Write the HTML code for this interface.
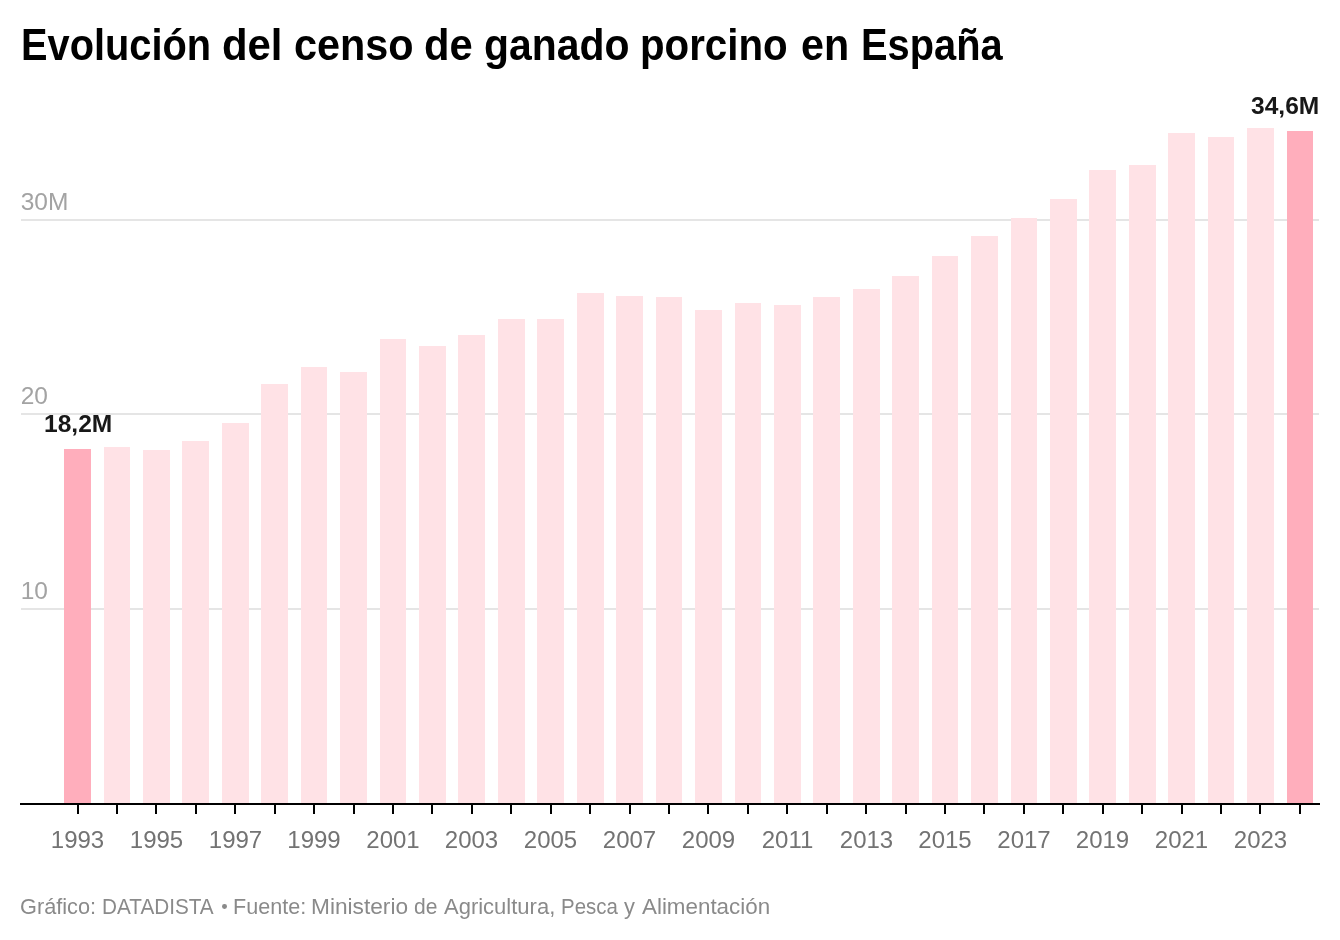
<!DOCTYPE html>
<html lang="es">
<head>
<meta charset="utf-8">
<title>Evolución del censo de ganado porcino en España</title>
<style>
html,body{margin:0;padding:0;background:#fff;}
body{width:1340px;height:940px;position:relative;overflow:hidden;
  font-family:"Liberation Sans",sans-serif;}
.t{position:absolute;white-space:nowrap;line-height:1;transform-origin:0 0;}
.tw{top:23.5px;font-size:43.5px;font-weight:700;color:#000;}
.yl{left:20.7px;font-size:24.5px;color:#a3a3a3;}
.xl{font-size:24px;color:#737373;top:828px;width:80px;text-align:center;}
.vl{font-size:24px;font-weight:700;color:#181818;transform:scaleX(1.023);}
.fw{top:895.8px;font-size:21.8px;color:#8a8a8a;}
#bul{position:absolute;left:221.9px;top:904.4px;width:4.8px;height:4.8px;border-radius:50%;background:#8a8a8a;}
svg{position:absolute;left:0;top:0;}
#txt{position:absolute;left:0;top:0;width:1340px;height:940px;will-change:transform;}
</style>
</head>
<body>
<svg width="1340" height="940" viewBox="0 0 1340 940" shape-rendering="crispEdges">
<rect x="21" y="219" width="1298" height="2" fill="#e5e5e5"/>
<rect x="21" y="413" width="1298" height="2" fill="#e5e5e5"/>
<rect x="21" y="608" width="1298" height="2" fill="#e5e5e5"/>
<rect x="64" y="449" width="27" height="354" fill="#ffaebc"/>
<rect x="104" y="447" width="26" height="356" fill="#ffe2e6"/>
<rect x="143" y="450" width="27" height="353" fill="#ffe2e6"/>
<rect x="182" y="441" width="27" height="362" fill="#ffe2e6"/>
<rect x="222" y="423" width="27" height="380" fill="#ffe2e6"/>
<rect x="261" y="384" width="27" height="419" fill="#ffe2e6"/>
<rect x="301" y="367" width="26" height="436" fill="#ffe2e6"/>
<rect x="340" y="372" width="27" height="431" fill="#ffe2e6"/>
<rect x="380" y="339" width="26" height="464" fill="#ffe2e6"/>
<rect x="419" y="346" width="27" height="457" fill="#ffe2e6"/>
<rect x="458" y="335" width="27" height="468" fill="#ffe2e6"/>
<rect x="498" y="319" width="27" height="484" fill="#ffe2e6"/>
<rect x="537" y="319" width="27" height="484" fill="#ffe2e6"/>
<rect x="577" y="293" width="27" height="510" fill="#ffe2e6"/>
<rect x="616" y="296" width="27" height="507" fill="#ffe2e6"/>
<rect x="656" y="297" width="26" height="506" fill="#ffe2e6"/>
<rect x="695" y="310" width="27" height="493" fill="#ffe2e6"/>
<rect x="735" y="303" width="26" height="500" fill="#ffe2e6"/>
<rect x="774" y="305" width="27" height="498" fill="#ffe2e6"/>
<rect x="813" y="297" width="27" height="506" fill="#ffe2e6"/>
<rect x="853" y="289" width="27" height="514" fill="#ffe2e6"/>
<rect x="892" y="276" width="27" height="527" fill="#ffe2e6"/>
<rect x="932" y="256" width="26" height="547" fill="#ffe2e6"/>
<rect x="971" y="236" width="27" height="567" fill="#ffe2e6"/>
<rect x="1011" y="218" width="26" height="585" fill="#ffe2e6"/>
<rect x="1050" y="199" width="27" height="604" fill="#ffe2e6"/>
<rect x="1089" y="170" width="27" height="633" fill="#ffe2e6"/>
<rect x="1129" y="165" width="27" height="638" fill="#ffe2e6"/>
<rect x="1168" y="133" width="27" height="670" fill="#ffe2e6"/>
<rect x="1208" y="137" width="26" height="666" fill="#ffe2e6"/>
<rect x="1247" y="128" width="27" height="675" fill="#ffe2e6"/>
<rect x="1287" y="131" width="26" height="672" fill="#ffaebc"/>
<rect x="20" y="803" width="1300" height="2" fill="#000"/>
<rect x="77" y="805" width="2" height="9" fill="#000"/>
<rect x="116" y="805" width="2" height="9" fill="#000"/>
<rect x="155" y="805" width="2" height="9" fill="#000"/>
<rect x="195" y="805" width="2" height="9" fill="#000"/>
<rect x="234" y="805" width="2" height="9" fill="#000"/>
<rect x="274" y="805" width="2" height="9" fill="#000"/>
<rect x="313" y="805" width="2" height="9" fill="#000"/>
<rect x="353" y="805" width="2" height="9" fill="#000"/>
<rect x="392" y="805" width="2" height="9" fill="#000"/>
<rect x="431" y="805" width="2" height="9" fill="#000"/>
<rect x="471" y="805" width="2" height="9" fill="#000"/>
<rect x="510" y="805" width="2" height="9" fill="#000"/>
<rect x="550" y="805" width="2" height="9" fill="#000"/>
<rect x="589" y="805" width="2" height="9" fill="#000"/>
<rect x="629" y="805" width="2" height="9" fill="#000"/>
<rect x="668" y="805" width="2" height="9" fill="#000"/>
<rect x="707" y="805" width="2" height="9" fill="#000"/>
<rect x="747" y="805" width="2" height="9" fill="#000"/>
<rect x="786" y="805" width="2" height="9" fill="#000"/>
<rect x="826" y="805" width="2" height="9" fill="#000"/>
<rect x="865" y="805" width="2" height="9" fill="#000"/>
<rect x="905" y="805" width="2" height="9" fill="#000"/>
<rect x="944" y="805" width="2" height="9" fill="#000"/>
<rect x="983" y="805" width="2" height="9" fill="#000"/>
<rect x="1023" y="805" width="2" height="9" fill="#000"/>
<rect x="1062" y="805" width="2" height="9" fill="#000"/>
<rect x="1102" y="805" width="2" height="9" fill="#000"/>
<rect x="1141" y="805" width="2" height="9" fill="#000"/>
<rect x="1181" y="805" width="2" height="9" fill="#000"/>
<rect x="1220" y="805" width="2" height="9" fill="#000"/>
<rect x="1259" y="805" width="2" height="9" fill="#000"/>
<rect x="1299" y="805" width="2" height="9" fill="#000"/>
</svg>
<div id="txt">
<div class="t tw" style="left:21.17px;transform:scaleX(0.9142)">Evolución</div>
<div class="t tw" style="left:222.24px;transform:scaleX(0.9627)">del</div>
<div class="t tw" style="left:294.05px;transform:scaleX(0.9512)">censo</div>
<div class="t tw" style="left:424.04px;transform:scaleX(0.9592)">de</div>
<div class="t tw" style="left:484.06px;transform:scaleX(0.9408)">ganado</div>
<div class="t tw" style="left:639.72px;transform:scaleX(0.9258)">porcino</div>
<div class="t tw" style="left:801.05px;transform:scaleX(0.9479)">en</div>
<div class="t tw" style="left:861.17px;transform:scaleX(0.9150)">España</div>
<div class="t yl" style="top:189.6px">30M</div>
<div class="t yl" style="top:383.6px">20</div>
<div class="t yl" style="top:578.6px">10</div>
<div class="t xl" style="left:37.5px">1993</div>
<div class="t xl" style="left:116.5px">1995</div>
<div class="t xl" style="left:195.5px">1997</div>
<div class="t xl" style="left:274.0px">1999</div>
<div class="t xl" style="left:353.0px">2001</div>
<div class="t xl" style="left:431.5px">2003</div>
<div class="t xl" style="left:510.5px">2005</div>
<div class="t xl" style="left:589.5px">2007</div>
<div class="t xl" style="left:668.5px">2009</div>
<div class="t xl" style="left:747.5px">2011</div>
<div class="t xl" style="left:826.5px">2013</div>
<div class="t xl" style="left:905.0px">2015</div>
<div class="t xl" style="left:984.0px">2017</div>
<div class="t xl" style="left:1062.5px">2019</div>
<div class="t xl" style="left:1141.5px">2021</div>
<div class="t xl" style="left:1220.5px">2023</div>
<div class="t vl" id="v1" style="left:43.7px;top:412px">18,2M</div>
<div class="t vl" id="v2" style="left:1251.4px;top:94px">34,6M</div>
<div class="t fw" style="left:20.25px;transform:scaleX(0.9966)">Gráfico:</div>
<div class="t fw" style="left:101.55px;transform:scaleX(0.9509)">DATADISTA</div>
<div class="t fw" style="left:233.26px;transform:scaleX(0.9894)">Fuente:</div>
<div class="t fw" style="left:310.71px;transform:scaleX(1.0408)">Ministerio</div>
<div class="t fw" style="left:414.03px;transform:scaleX(0.9659)">de</div>
<div class="t fw" style="left:443.75px;transform:scaleX(1.0092)">Agricultura,</div>
<div class="t fw" style="left:560.81px;transform:scaleX(0.9375)">Pesca</div>
<div class="t fw" style="left:624.00px;transform:scaleX(1.0000)">y</div>
<div class="t fw" style="left:642.00px;transform:scaleX(1.0266)">Alimentación</div>
<div id="bul"></div>
</div>
</body>
</html>
